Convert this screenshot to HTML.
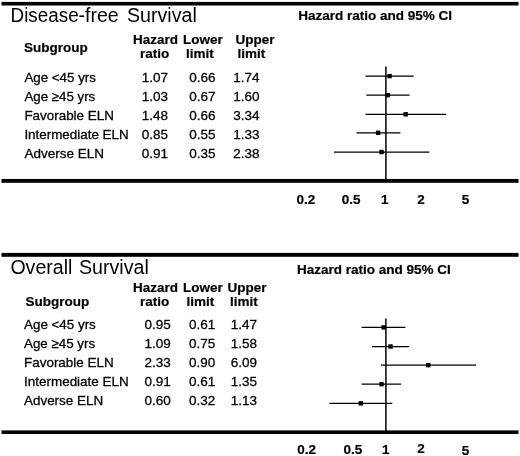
<!DOCTYPE html>
<html lang="en"><head><meta charset="utf-8"><title>Forest plot: Disease-free and Overall Survival</title>
<style>html,body{margin:0;padding:0;background:#fff}body{width:520px;height:456px;overflow:hidden}svg{display:block;will-change:transform}text{font-family:'Liberation Sans', sans-serif;fill:#000}.b{font-weight:700;font-size:13.5px;stroke:#000;stroke-width:.2px}.r{font-size:13.5px;stroke:#000;stroke-width:.28px}.t{font-size:19.55px}</style></head><body>
<svg width="520" height="456" viewBox="0 0 520 456">
<rect width="520" height="456" fill="#fff"/>
<rect x="1.5" y="1.90" width="517" height="3.60" fill="#000"/>
<text y="22.15" class="t"><tspan x="10.60" textLength="68.00" lengthAdjust="spacingAndGlyphs">Disease</tspan><tspan x="78.50" textLength="40.20" lengthAdjust="spacingAndGlyphs">-free</tspan><tspan x="121.60" textLength="75.20" lengthAdjust="spacingAndGlyphs"> Survival</tspan></text>
<text x="24.10" y="52.15" class="b">Subgroup</text>
<text x="133.10" y="43.80" class="b">Hazard</text>
<text x="139.90" y="58.10" class="b">ratio</text>
<text x="183.00" y="43.80" class="b">Lower</text>
<text x="186.00" y="58.10" class="b">limit</text>
<text x="235.60" y="43.80" class="b">Upper</text>
<text x="237.50" y="58.10" class="b">limit</text>
<text x="298.30" y="20.00" class="b">Hazard ratio and 95% CI</text>
<text x="24.40" y="82.15" class="r" textLength="71.52" lengthAdjust="spacingAndGlyphs">Age &lt;45 yrs</text>
<text x="141.70" y="82.15" class="r">1.07</text>
<text x="189.30" y="82.15" class="r">0.66</text>
<text x="233.20" y="82.15" class="r">1.74</text>
<line x1="365.54" y1="76.10" x2="413.74" y2="76.10" stroke="#000" stroke-width="1.25"/>
<rect x="387.36" y="73.90" width="4.4" height="4.4" fill="#000"/>
<text x="24.40" y="101.10" class="r" textLength="70.85" lengthAdjust="spacingAndGlyphs">Age ≥45 yrs</text>
<text x="141.70" y="101.10" class="r">1.03</text>
<text x="189.30" y="101.10" class="r">0.67</text>
<text x="233.20" y="101.10" class="r">1.60</text>
<line x1="366.29" y1="95.20" x2="409.57" y2="95.20" stroke="#000" stroke-width="1.25"/>
<rect x="385.47" y="93.00" width="4.4" height="4.4" fill="#000"/>
<text x="24.40" y="120.10" class="r" textLength="89.45" lengthAdjust="spacingAndGlyphs">Favorable ELN</text>
<text x="141.70" y="120.10" class="r">1.48</text>
<text x="189.30" y="120.10" class="r">0.66</text>
<text x="233.20" y="120.10" class="r">3.34</text>
<line x1="365.54" y1="114.30" x2="446.17" y2="114.30" stroke="#000" stroke-width="1.25"/>
<rect x="403.49" y="112.10" width="4.4" height="4.4" fill="#000"/>
<text x="24.40" y="139.10" class="r" textLength="104.21" lengthAdjust="spacingAndGlyphs">Intermediate ELN</text>
<text x="141.70" y="139.10" class="r">0.85</text>
<text x="189.30" y="139.10" class="r">0.55</text>
<text x="233.20" y="139.10" class="r">1.33</text>
<line x1="356.47" y1="132.80" x2="400.38" y2="132.80" stroke="#000" stroke-width="1.25"/>
<rect x="375.92" y="130.60" width="4.4" height="4.4" fill="#000"/>
<text x="24.40" y="158.05" class="r" textLength="79.55" lengthAdjust="spacingAndGlyphs">Adverse ELN</text>
<text x="141.70" y="158.05" class="r">0.91</text>
<text x="189.30" y="158.05" class="r">0.35</text>
<text x="233.20" y="158.05" class="r">2.38</text>
<line x1="334.00" y1="152.00" x2="429.32" y2="152.00" stroke="#000" stroke-width="1.25"/>
<rect x="379.31" y="149.80" width="4.4" height="4.4" fill="#000"/>
<line x1="385.90" y1="66.40" x2="385.90" y2="179.95" stroke="#000" stroke-width="1.5"/>
<rect x="1.5" y="178.95" width="517" height="3.85" fill="#000"/>
<text x="296.60" y="203.70" class="b">0.2</text>
<text x="341.80" y="203.70" class="b">0.5</text>
<text x="381.10" y="203.70" class="b">1</text>
<text x="417.20" y="203.70" class="b">2</text>
<text x="461.70" y="203.70" class="b">5</text>
<rect x="1.5" y="252.90" width="517" height="3.90" fill="#000"/>
<text y="273.50" class="t"><tspan x="10.40" textLength="62.00" lengthAdjust="spacingAndGlyphs">Overall</tspan><tspan x="73.60" textLength="75.20" lengthAdjust="spacingAndGlyphs"> Survival</tspan></text>
<text x="25.60" y="305.80" class="b">Subgroup</text>
<text x="133.10" y="292.00" class="b">Hazard</text>
<text x="139.90" y="306.20" class="b">ratio</text>
<text x="183.00" y="292.00" class="b">Lower</text>
<text x="186.40" y="306.20" class="b">limit</text>
<text x="227.40" y="292.00" class="b">Upper</text>
<text x="230.00" y="306.20" class="b">limit</text>
<text x="296.90" y="273.55" class="b">Hazard ratio and 95% CI</text>
<text x="24.00" y="329.25" class="r" textLength="71.82" lengthAdjust="spacingAndGlyphs">Age &lt;45 yrs</text>
<text x="144.60" y="329.25" class="r">0.95</text>
<text x="188.90" y="329.25" class="r">0.61</text>
<text x="230.80" y="329.25" class="r">1.47</text>
<line x1="361.62" y1="327.40" x2="405.36" y2="327.40" stroke="#000" stroke-width="1.25"/>
<rect x="381.45" y="325.20" width="4.4" height="4.4" fill="#000"/>
<text x="24.00" y="348.25" class="r" textLength="71.15" lengthAdjust="spacingAndGlyphs">Age ≥45 yrs</text>
<text x="144.60" y="348.25" class="r">1.09</text>
<text x="188.90" y="348.25" class="r">0.75</text>
<text x="230.80" y="348.25" class="r">1.58</text>
<line x1="371.89" y1="346.50" x2="408.95" y2="346.50" stroke="#000" stroke-width="1.25"/>
<rect x="388.29" y="344.30" width="4.4" height="4.4" fill="#000"/>
<text x="24.00" y="367.25" class="r" textLength="89.65" lengthAdjust="spacingAndGlyphs">Favorable ELN</text>
<text x="144.60" y="367.25" class="r">2.33</text>
<text x="188.90" y="367.25" class="r">0.90</text>
<text x="230.80" y="367.25" class="r">6.09</text>
<line x1="380.96" y1="365.15" x2="476.04" y2="365.15" stroke="#000" stroke-width="1.25"/>
<rect x="426.06" y="362.95" width="4.4" height="4.4" fill="#000"/>
<text x="24.00" y="386.30" class="r" textLength="104.76" lengthAdjust="spacingAndGlyphs">Intermediate ELN</text>
<text x="144.60" y="386.30" class="r">0.91</text>
<text x="188.90" y="386.30" class="r">0.61</text>
<text x="230.80" y="386.30" class="r">1.35</text>
<line x1="361.62" y1="384.20" x2="401.12" y2="384.20" stroke="#000" stroke-width="1.25"/>
<rect x="379.31" y="382.00" width="4.4" height="4.4" fill="#000"/>
<text x="24.00" y="405.05" class="r" textLength="79.15" lengthAdjust="spacingAndGlyphs">Adverse ELN</text>
<text x="144.60" y="405.05" class="r">0.60</text>
<text x="188.90" y="405.05" class="r">0.32</text>
<text x="230.80" y="405.05" class="r">1.13</text>
<line x1="329.54" y1="403.30" x2="392.28" y2="403.30" stroke="#000" stroke-width="1.25"/>
<rect x="358.60" y="401.10" width="4.4" height="4.4" fill="#000"/>
<line x1="385.90" y1="318.50" x2="385.90" y2="431.40" stroke="#000" stroke-width="1.5"/>
<rect x="1.5" y="430.40" width="517" height="3.60" fill="#000"/>
<text x="297.30" y="454.00" class="b">0.2</text>
<text x="343.40" y="454.00" class="b">0.5</text>
<text x="381.90" y="454.00" class="b">1</text>
<text x="417.20" y="452.50" class="b">2</text>
<text x="461.80" y="454.60" class="b">5</text>
</svg></body></html>
